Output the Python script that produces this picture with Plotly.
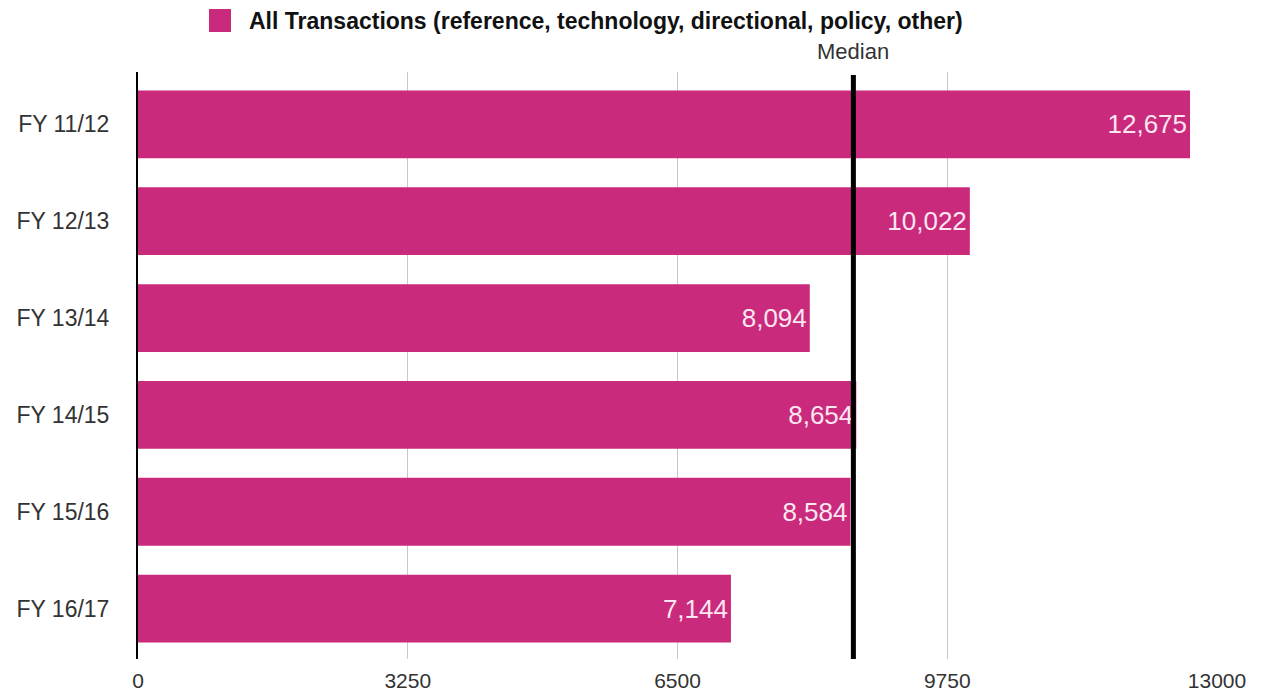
import numpy as np
import plotly.graph_objects as go

# Financial years and total transactions per year
years = ["FY 11/12", "FY 12/13", "FY 13/14", "FY 14/15", "FY 15/16", "FY 16/17"]
transactions = [12675, 10022, 8094, 8654, 8584, 7144]
x_ticks = [0, 3250, 6500, 9750, 13000]
series_name = "All Transactions (reference, technology, directional, policy, other)"

median_value = float(np.median(transactions))

BAR_COLOR = "#C92A7B"
FONT = "Liberation Sans, Arial, Helvetica, sans-serif"

W, H = 1262, 696
M_L, M_R, M_T, M_B = 138, 45, 72, 37
plot_w = W - M_L - M_R
plot_h = H - M_T - M_B


def px_x(px):
    return (px - M_L) / plot_w


def px_y(py):
    return (H - M_B - py) / plot_h


fig = go.Figure()
fig.add_trace(go.Bar(
    y=years,
    x=transactions,
    orientation="h",
    marker=dict(color=BAR_COLOR, line=dict(width=0)),
    texttemplate="%{x:,}",
    textposition="inside",
    insidetextanchor="end",
    textfont=dict(family=FONT, size=26, color="#FBE6F1"),
    cliponaxis=False,
    name=series_name,
    showlegend=False,
    hoverinfo="skip",
))

# Median reference line
fig.add_shape(type="line", xref="x", yref="paper",
              x0=median_value, x1=median_value, y0=0, y1=px_y(75),
              line=dict(color="black", width=5), layer="above")
fig.add_annotation(x=median_value, xref="x", y=px_y(52), yref="paper",
                   text="Median", showarrow=False, xanchor="center", yanchor="middle",
                   font=dict(family=FONT, size=22, color="#333333"))

# Legend swatch and label
fig.add_shape(type="rect", xref="paper", yref="paper",
              x0=px_x(209), x1=px_x(231), y0=px_y(32), y1=px_y(9),
              fillcolor=BAR_COLOR, line=dict(width=0))
fig.add_annotation(x=px_x(247), xref="paper", y=px_y(21), yref="paper",
                   text="<b>" + series_name + "</b>", showarrow=False,
                   xanchor="left", yanchor="middle",
                   font=dict(family=FONT, size=23, color="#111111"))

fig.update_layout(
    width=W, height=H,
    margin=dict(l=M_L, r=M_R, t=M_T, b=M_B, pad=0),
    paper_bgcolor="white", plot_bgcolor="white",
    bargap=0.3,
    font=dict(family=FONT, color="#333333"),
    xaxis=dict(
        range=[0, 13000], tickvals=x_ticks, ticktext=[str(v) for v in x_ticks],
        showgrid=True, gridcolor="#C8C8C8", gridwidth=1,
        zeroline=False, showline=False, automargin=False,
        ticks="outside", ticklen=3, tickcolor="rgba(0,0,0,0)",
        tickfont=dict(family=FONT, size=21, color="#333333"),
    ),
    yaxis=dict(
        categoryorder="array", categoryarray=years,
        range=[5.52, -0.54],
        showgrid=False, zeroline=False, automargin=False,
        showline=True, linecolor="black", linewidth=2,
        ticks="outside", ticklen=22, tickcolor="rgba(0,0,0,0)",
        tickfont=dict(family=FONT, size=23, color="#333333"),
    ),
)

fig.write_html("out.html")
